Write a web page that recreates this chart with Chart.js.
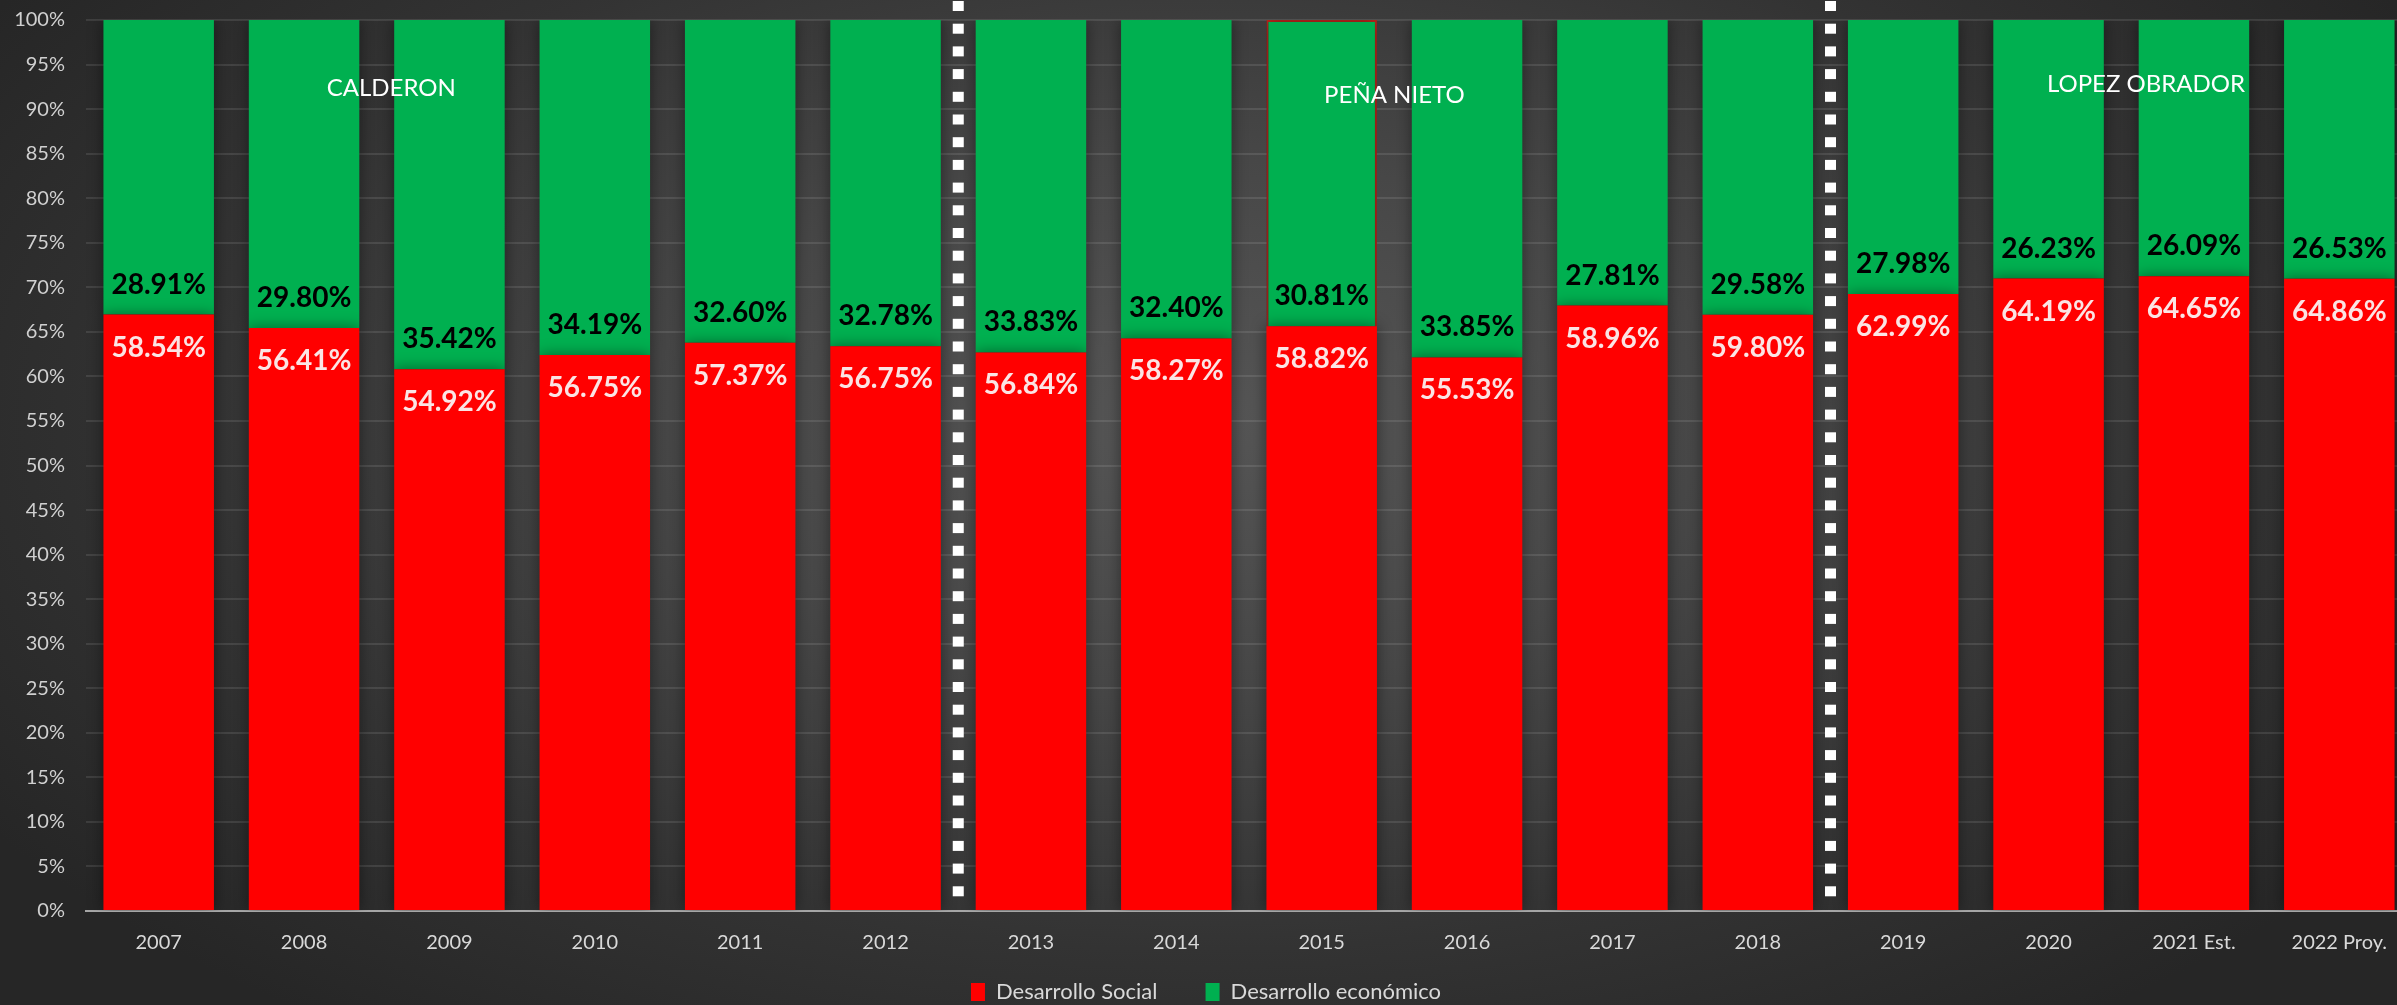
<!DOCTYPE html>
<html>
<head>
<meta charset="utf-8">
<script src="https://cdn.jsdelivr.net/npm/chart.js@4"></script>
<style>
  html, body { margin: 0; padding: 0; overflow: hidden; }
  body {
    width: 2397px; height: 1005px;
    background: radial-gradient(ellipse 60% 75% at 50% 42%, #565656 0%, #474747 35%, #333333 70%, #262626 100%);
  }
  #wrap { width: 2412px; height: 1013px; position: relative; }
</style>
</head>
<body>
<div id="wrap"><canvas id="myChart"></canvas></div>
<script>
// years on the axis
const years = ["2007", "2008", "2009", "2010", "2011", "2012", "2013", "2014", "2015", "2016", "2017", "2018", "2019", "2020", "2021 Est.", "2022 Proy."];
// share of spending, as printed on the bars
const social = [58.54, 56.41, 54.92, 56.75, 57.37, 56.75, 56.84, 58.27, 58.82, 55.53, 58.96, 59.80, 62.99, 64.19, 64.65, 64.86];
const economico = [28.91, 29.80, 35.42, 34.19, 32.60, 32.78, 33.83, 32.40, 30.81, 33.85, 27.81, 29.58, 27.98, 26.23, 26.09, 26.53];
const yTicks = [0, 5, 10, 15, 20, 25, 30, 35, 40, 45, 50, 55, 60, 65, 70, 75, 80, 85, 90, 95, 100];
// presidential terms: label, x position (category index), y position (%)
const terms = [["CALDERON", 1.6, 92.3], ["PEÑA NIETO", 8.5, 91.5], ["LOPEZ OBRADOR", 13.67, 92.8]];
// separators drawn after these category indexes
const splits = [5, 11];

// 100% stacked: each bar normalised to the sum of both series
const socialPct = social.map((v, i) => v / (v + economico[i]) * 100);
const economicoPct = economico.map((v, i) => v / (v + social[i]) * 100);

const FONT = "Lato, 'Open Sans', sans-serif";

const extras = {
	id: "extras",
	beforeDatasetsDraw(chart) {
		const ctx = chart.ctx;
		ctx.save();
		ctx.shadowColor = "rgba(0,0,0,0.45)";
		ctx.shadowBlur = 14;
	},
	afterDatasetsDraw(chart) {
		const ctx = chart.ctx;
		ctx.restore();
		const x = chart.scales.x;
		const y = chart.scales.y;
		const area = chart.chartArea;

		// value labels
		ctx.save();
		ctx.font = "bold 28px " + FONT;
		ctx.textAlign = "center";
		ctx.textBaseline = "middle";
		const red = chart.getDatasetMeta(0).data;
		const green = chart.getDatasetMeta(1).data;
		red.forEach((bar, i) => {
			ctx.fillStyle = "#fbe4e4";
			ctx.fillText(social[i].toFixed(2) + "%", bar.x, bar.y + 33);
		});
		green.forEach((bar, i) => {
			ctx.fillStyle = "#000000";
			ctx.fillText(economico[i].toFixed(2) + "%", bar.x, bar.base - 30);
		});

		// term names
		ctx.font = "24px " + FONT;
		ctx.fillStyle = "#ffffff";
		terms.forEach(t => {
			ctx.fillText(t[0], x.getPixelForValue(t[1]), y.getPixelForValue(t[2]));
		});

		// dotted separators
		ctx.fillStyle = "#ffffff";
		splits.forEach(s => {
			const px = (x.getPixelForValue(s) + x.getPixelForValue(s + 1)) / 2;
			for (let py = 1; py < area.bottom - 8; py += 22.7) {
				ctx.fillRect(px - 5.5, py, 11, 10);
			}
		});
		ctx.restore();
	}
};

const ctx = document.getElementById("myChart").getContext("2d");
const myChart = new Chart(ctx, {
	type: "bar",
	data: {
		labels: years,
		datasets: [
			{
				label: "Desarrollo Social",
				data: socialPct,
				backgroundColor: "#ff0000",
				borderWidth: 0
			},
			{
				label: "Desarrollo económico",
				data: economicoPct,
				backgroundColor: "#00b050",
				borderColor: years.map((y, i) => i === 8 ? "#c0281e" : "rgba(0,0,0,0)"),
				borderWidth: years.map((y, i) => i === 8 ? 2 : 0),
				borderSkipped: "bottom"
			}
		]
	},
	options: {
		responsive: true,
		maintainAspectRatio: false,
		animation: false,
		layout: { padding: { top: 20, right: 0, bottom: 0, left: 0 } },
		datasets: { bar: { categoryPercentage: 1, barPercentage: 0.76 } },
		plugins: {
			tooltip: { enabled: false },
			legend: {
				position: "bottom",
				labels: {
					color: "#d9d9d9",
					font: { family: FONT, size: 22 },
					boxWidth: 14,
					boxHeight: 18,
					padding: 20,
					generateLabels(chart) {
						const items = Chart.defaults.plugins.legend.labels.generateLabels(chart);
						// wider gap between the two entries, as in the original
						items[0].text += "     ";
						return items;
					}
				}
			}
		},
		scales: {
			x: {
				stacked: true,
				grid: { display: false, drawTicks: false },
				border: { display: true, color: "#a6a6a6", width: 2 },
				ticks: { color: "#d9d9d9", font: { family: FONT, size: 20 }, padding: 20, maxRotation: 0, autoSkip: false },
				afterFit(scale) { scale.height = 50; }
			},
			y: {
				stacked: true,
				min: 0,
				max: 100,
				afterBuildTicks(scale) { scale.ticks = yTicks.map(v => ({ value: v })); },
				grid: { color: "rgba(255,255,255,0.1)", lineWidth: 2, drawTicks: false },
				border: { display: false },
				ticks: {
					color: "#d0d0d0",
					font: { family: FONT, size: 20 },
					padding: 21,
					callback: v => v + "%"
				},
				afterFit(scale) {
					scale.width = 86;
					scale.paddingTop = 0;
					scale.paddingBottom = 0;
				}
			}
		}
	},
	plugins: [extras]
});
</script>
</body>
</html>
